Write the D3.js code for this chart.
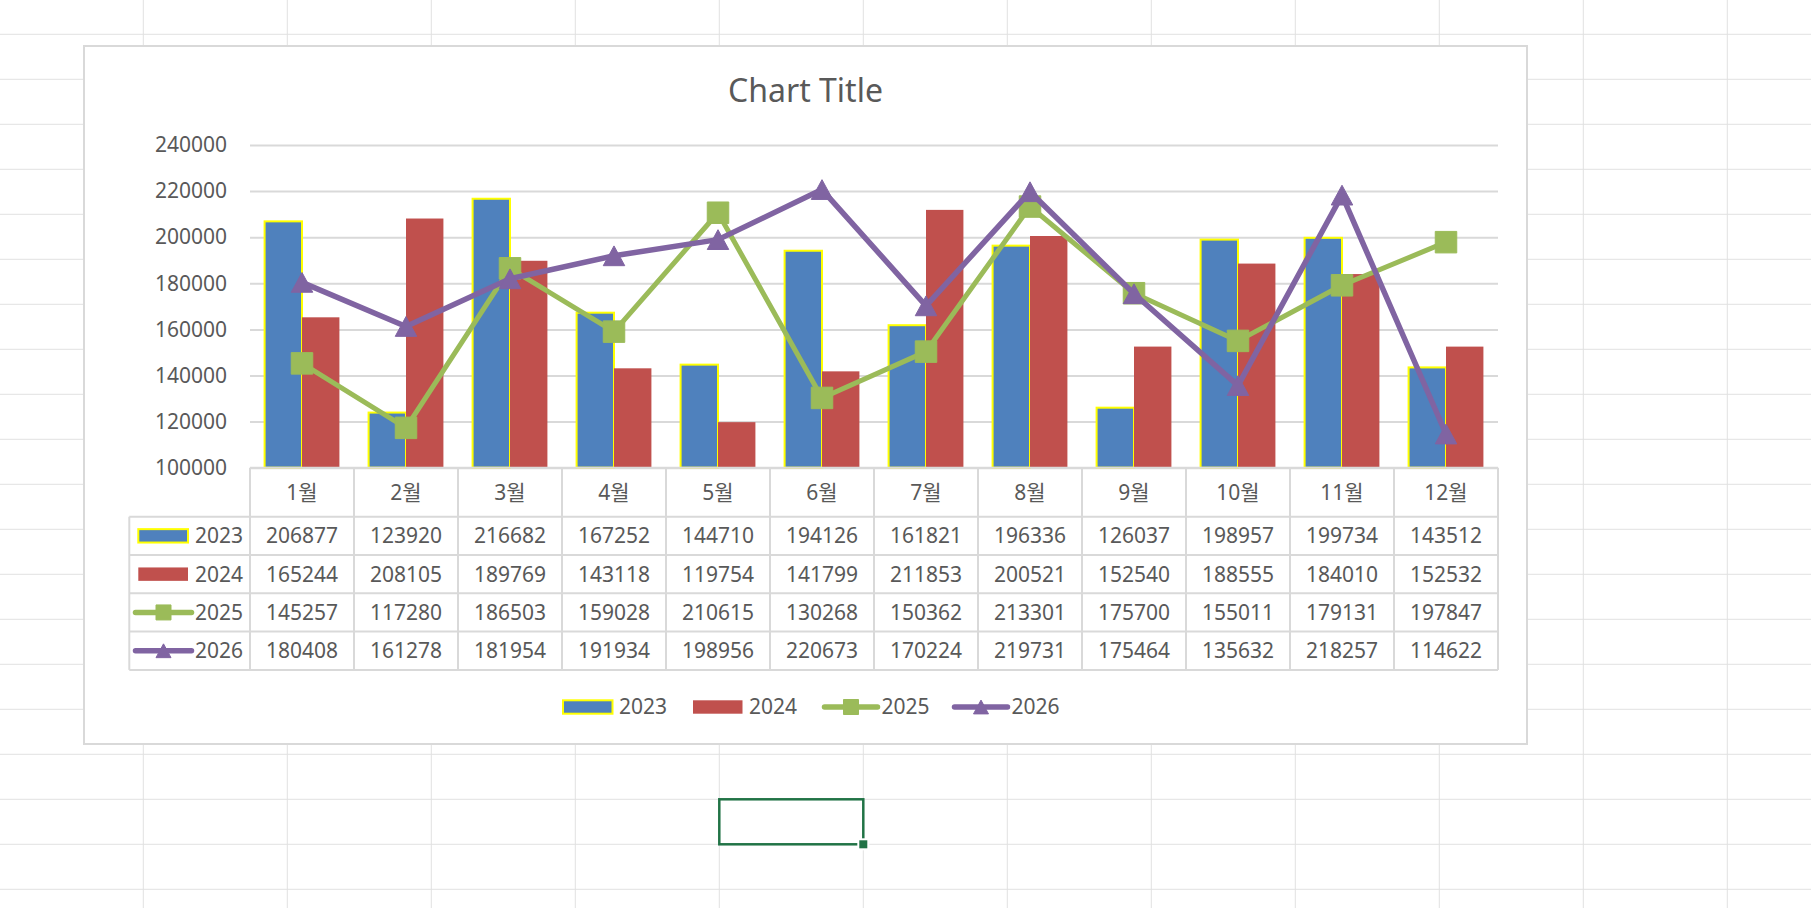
<!DOCTYPE html>
<html>
<head>
<meta charset="utf-8">
<script src="https://cdn.jsdelivr.net/npm/d3@7"></script>
<style>
    html, body { margin: 0; padding: 0; background: #fff; overflow: hidden; }
    svg { display: block; font-family: 'Noto Sans', 'Noto Sans CJK KR', sans-serif; }
</style>
</head>
<body>
<div id="chart"></div>
<script>
// chart data
const months = ['1월', '2월', '3월', '4월', '5월', '6월', '7월', '8월', '9월', '10월', '11월', '12월'];
const values2023 = [206877, 123920, 216682, 167252, 144710, 194126, 161821, 196336, 126037, 198957, 199734, 143512];
const values2024 = [165244, 208105, 189769, 143118, 119754, 141799, 211853, 200521, 152540, 188555, 184010, 152532];
const values2025 = [145257, 117280, 186503, 159028, 210615, 130268, 150362, 213301, 175700, 155011, 179131, 197847];
const values2026 = [180408, 161278, 181954, 191934, 198956, 220673, 170224, 219731, 175464, 135632, 218257, 114622];
const yTicks = [100000, 120000, 140000, 160000, 180000, 200000, 220000, 240000];
const chartTitle = 'Chart Title';

// page and chart dimensions
const pageWidth = 1811;
const pageHeight = 908;
const box = {x: 84, y: 46, w: 1443, h: 698};
const plot = {left: 250, right: 1498, top: 145, bottom: 467.7};
const headerHeight = 49;
const rowHeight = 38.3;
const textColor = '#595959';
const lineColor = '#d9d9d9';

const series = [
    {name: '2023', values: values2023, type: 'bar', fill: '#4f81bd', stroke: '#ffff00'},
    {name: '2024', values: values2024, type: 'bar', fill: '#c0504d', stroke: 'none'},
    {name: '2025', values: values2025, type: 'line', fill: '#9bbb59', marker: 'square', width: 5},
    {name: '2026', values: values2026, type: 'line', fill: '#8064a2', marker: 'triangle', width: 5.5}
];

const svg = d3.select('#chart')
    .append('svg')
    .attr('width', pageWidth)
    .attr('height', pageHeight);

// spreadsheet cells behind the chart
const sheet = svg.append('g').attr('stroke', '#e1e1e1').attr('stroke-width', 1);
sheet.selectAll('.col')
    .data(d3.range(143.3, pageWidth, 144))
    .join('line')
    .attr('x1', d => d).attr('x2', d => d)
    .attr('y1', 0).attr('y2', pageHeight);
sheet.selectAll('.row')
    .data(d3.range(34.3, pageHeight, 45))
    .join('line')
    .attr('x1', 0).attr('x2', pageWidth)
    .attr('y1', d => d).attr('y2', d => d);

// selected cell with its fill handle
svg.append('rect')
    .attr('x', 719.3).attr('y', 799.3)
    .attr('width', 144).attr('height', 45)
    .attr('fill', 'none')
    .attr('stroke', '#217346')
    .attr('stroke-width', 2.5);
svg.append('rect')
    .attr('x', 857.3).attr('y', 838.3)
    .attr('width', 12).attr('height', 12)
    .attr('fill', '#fff');
svg.append('rect')
    .attr('x', 859.3).attr('y', 840.3)
    .attr('width', 8).attr('height', 8)
    .attr('fill', '#217346');

// chart area
svg.append('rect')
    .attr('x', box.x).attr('y', box.y)
    .attr('width', box.w).attr('height', box.h)
    .attr('fill', '#fff')
    .attr('stroke', lineColor)
    .attr('stroke-width', 2);

svg.append('text')
    .attr('x', box.x + box.w / 2)
    .attr('y', 101.7)
    .attr('text-anchor', 'middle')
    .attr('fill', textColor)
    .attr('font-size', 32)
    .text(chartTitle);

// scales
const x = d3.scaleBand()
    .domain(months)
    .range([plot.left, plot.right]);
const barSeries = series.filter(s => s.type === 'bar');
const x1 = d3.scaleBand()
    .domain(barSeries.map(s => s.name))
    .range([0, x.bandwidth()])
    .paddingOuter(0.39);
const y = d3.scaleLinear()
    .domain([yTicks[0], yTicks[yTicks.length - 1]])
    .range([plot.bottom, plot.top]);

// gridlines and value axis labels
const yAxis = svg.append('g')
    .attr('transform', 'translate(' + plot.left + ',0)')
    .call(d3.axisLeft(y)
        .tickValues(yTicks)
        .tickSize(-(plot.right - plot.left))
        .tickPadding(23)
        .tickFormat(d3.format('d')))
    .attr('font-family', null)
    .attr('font-size', 21);
yAxis.select('.domain').remove();
yAxis.selectAll('.tick line')
    .attr('stroke', lineColor)
    .attr('stroke-width', 2);
yAxis.selectAll('.tick text')
    .attr('fill', textColor);

// clustered bars
svg.append('g')
    .selectAll('g')
    .data(barSeries)
    .join('g')
    .attr('fill', s => s.fill)
    .attr('stroke', s => s.stroke)
    .attr('stroke-width', 2)
    .selectAll('rect')
    .data(s => s.values.map((v, i) => ({name: s.name, month: months[i], value: v})))
    .join('rect')
    .attr('x', d => x(d.month) + x1(d.name))
    .attr('width', x1.bandwidth())
    .attr('y', d => y(d.value))
    .attr('height', d => y(yTicks[0]) - y(d.value));

// line series with markers
const line = d3.line()
    .x((v, i) => x(months[i]) + x.bandwidth() / 2)
    .y(v => y(v));

function markerPath(kind, size) {
    const h = size / 2;
    if (kind === 'square') {
        return 'M' + (-h) + ',' + (-h) + 'H' + h + 'V' + h + 'H' + (-h) + 'Z';
    }
    const th = size * 0.92 / 2;
    return 'M0,' + (-th) + 'L' + h + ',' + th + 'L' + (-h) + ',' + th + 'Z';
}

const lineSeries = series.filter(s => s.type === 'line');
lineSeries.forEach(s => {
    const g = svg.append('g');
    g.append('path')
        .datum(s.values)
        .attr('fill', 'none')
        .attr('stroke', s.fill)
        .attr('stroke-width', s.width)
        .attr('stroke-linejoin', 'round')
        .attr('d', line);
    g.selectAll('.marker')
        .data(s.values)
        .join('path')
        .attr('transform', (v, i) => 'translate(' + (x(months[i]) + x.bandwidth() / 2) + ',' + y(v) + ')')
        .attr('fill', s.fill)
        .attr('stroke', s.fill)
        .attr('stroke-width', 1)
        .attr('stroke-linejoin', 'round')
        .attr('d', markerPath(s.marker, 21.5));
});

// draw a legend key (bar swatch or line with marker)
function drawKey(g, s, width, markerSize) {
    if (s.type === 'bar') {
        g.append('rect')
            .attr('x', 1).attr('y', -6.7)
            .attr('width', width - 2).attr('height', 13.4)
            .attr('fill', s.fill)
            .attr('stroke', s.stroke)
            .attr('stroke-width', 2);
    } else {
        g.append('line')
            .attr('x1', 2.5).attr('x2', width - 2.5)
            .attr('stroke', s.fill)
            .attr('stroke-width', 5.5)
            .attr('stroke-linecap', 'round');
        g.append('path')
            .attr('transform', 'translate(' + (width / 2) + ',0)')
            .attr('fill', s.fill)
            .attr('stroke', s.fill)
            .attr('stroke-linejoin', 'round')
            .attr('d', markerPath(s.marker, markerSize));
    }
}

// data table under the plot
const tableLeft = 129.3;
const tableTop = plot.bottom;
const rowsTop = tableTop + headerHeight;
const tableBottom = rowsTop + rowHeight * series.length;
const table = svg.append('g').attr('stroke', lineColor).attr('stroke-width', 2);
table.selectAll('.hline')
    .data(d3.range(series.length + 1))
    .join('line')
    .attr('x1', tableLeft).attr('x2', plot.right)
    .attr('y1', i => rowsTop + i * rowHeight)
    .attr('y2', i => rowsTop + i * rowHeight);
table.append('line')
    .attr('x1', plot.left).attr('x2', plot.right)
    .attr('y1', tableTop).attr('y2', tableTop);
table.selectAll('.vline')
    .data(d3.range(months.length + 1))
    .join('line')
    .attr('x1', i => plot.left + i * x.step())
    .attr('x2', i => plot.left + i * x.step())
    .attr('y1', tableTop).attr('y2', tableBottom);
table.append('line')
    .attr('x1', tableLeft).attr('x2', tableLeft)
    .attr('y1', rowsTop).attr('y2', tableBottom);

svg.append('g')
    .selectAll('text')
    .data(months)
    .join('text')
    .attr('x', d => x(d) + x.bandwidth() / 2)
    .attr('y', tableTop + headerHeight / 2)
    .attr('dy', '0.35em')
    .attr('text-anchor', 'middle')
    .attr('fill', textColor)
    .attr('font-size', 21)
    .text(d => d);

const rows = svg.append('g')
    .selectAll('g')
    .data(series)
    .join('g')
    .attr('transform', (s, i) => 'translate(0,' + (rowsTop + (i + 0.5) * rowHeight) + ')');
rows.selectAll('text')
    .data(s => s.values)
    .join('text')
    .attr('x', (v, i) => x(months[i]) + x.bandwidth() / 2)
    .attr('dy', '0.35em')
    .attr('text-anchor', 'middle')
    .attr('fill', textColor)
    .attr('font-size', 21)
    .text(v => v);
rows.each(function(s) {
    const key = d3.select(this).append('g')
        .attr('transform', 'translate(' + (s.type === 'bar' ? 137.3 : 133) + ',0)');
    drawKey(key, s, s.type === 'bar' ? 51.7 : 61, 15);
    d3.select(this).append('text')
        .attr('x', 195)
        .attr('dy', '0.35em')
        .attr('fill', textColor)
        .attr('font-size', 21)
        .text(s.name);
});

// legend below the table
const legend = svg.append('g')
    .selectAll('g')
    .data(series)
    .join('g')
    .attr('transform', (s, i) => 'translate(' + (562 + i * 130) + ',707)');
legend.each(function(s) {
    const g = d3.select(this);
    drawKey(g.append('g'), s, s.type === 'bar' ? 51.5 : 58, 15);
    g.append('text')
        .attr('x', s.type === 'bar' ? 57 : 59.5)
        .attr('dy', '0.35em')
        .attr('fill', textColor)
        .attr('font-size', 21)
        .text(s.name);
});
</script>
</body>
</html>
